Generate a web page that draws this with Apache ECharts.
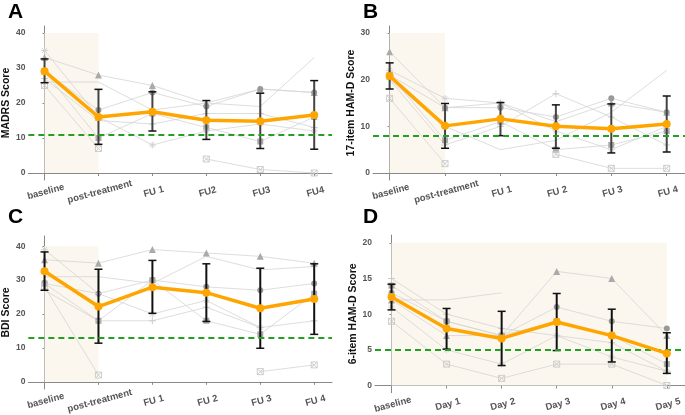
<!DOCTYPE html>
<html>
<head>
<meta charset="utf-8">
<script src="https://cdn.jsdelivr.net/npm/echarts@6/dist/echarts.min.js"></script>
<style>
  html, body { margin: 0; padding: 0; background: #fff; }
  #chart { width: 685px; height: 415px; }
</style>
</head>
<body>
<div id="chart"></div>
<script>
// category labels
const labelsA = ['baseline', 'post-treatment', 'FU 1', 'FU2', 'FU3', 'FU4'];
const labelsB = ['baseline', 'post-treatment', 'FU 1', 'FU 2', 'FU 3', 'FU 4'];
const labelsC = ['baseline', 'post-treatment', 'FU 1', 'FU 2', 'FU 3', 'FU 4'];
const labelsD = ['baseline', 'Day 1', 'Day 2', 'Day 3', 'Day 4', 'Day 5'];

// group means and error bars (low / high)
const meanA = [29.1, 16.0, 17.5, 15.1, 14.8, 16.6];
const lowA  = [25.8, 8.2, 12.0, 9.6, 7.0, 6.8];
const highA = [32.6, 23.9, 23.2, 20.7, 22.8, 26.4];

const meanB = [20.8, 10.1, 11.6, 10.0, 9.5, 10.5];
const lowB  = [18.0, 5.3, 8.0, 5.3, 4.3, 4.5];
const highB = [23.6, 14.9, 15.1, 14.6, 14.8, 16.5];

const meanC = [32.6, 22.2, 27.9, 26.3, 21.7, 24.4];
const lowC  = [27.0, 11.4, 20.2, 17.8, 9.9, 14.0];
const highC = [38.3, 33.2, 35.8, 34.8, 33.5, 34.8];

const meanD = [12.4, 8.0, 6.6, 8.9, 7.0, 4.5];
const lowD  = [10.6, 5.1, 2.8, 4.9, 3.3, 1.7];
const highD = [14.2, 10.8, 10.4, 12.9, 10.7, 7.4];

// cut-off lines
const cutA = 11, cutB = 8, cutC = 13, cutD = 5;

// individual subjects (tri, cir, sq, plus, box, ast, plain)
const subjA = [
  [33, 28, 25, 20, 24, 23],
  [29, 18, 23, 19, 24, 23],
  [29, 10, 17, 13, 9, 16],
  [27, 15, 14, 17, 17, 13],
  [25, 7, null, 4, 1, 0],
  [35, 16, 8, 12, 14, 12],
  [26, 26, 18, 20, 19, 33]
];
const subjB = [
  [26, 14, 15, 11, 15, 13],
  [21, 14, 14, 12, 16, 13],
  [21, 7, 11, 5, 6, 9],
  [20, 6, 10, 17, 12, 6],
  [16, 2, null, 4, 1, 1],
  [22, 16, 15, 9, 5, 10],
  [20, 10, 5, 7, 13, 22]
];
const subjC = [
  [36, 35, 39, 38, 37, 35],
  [29, 26, 30, 28, 27, 29],
  [29, 18, 30, 18, 14, 26],
  [27, 18, 18, 22, 16, 18],
  [28, 2, null, null, 3, 5],
  [39, 26, 20, 24, 16, null],
  [31, 31, 29, 37, 33, 34]
];
const subjD = [
  [12, 7, 7, 16, 15, 7],
  [13, 9, 7, 11, 9, 8],
  [14, 9, 7, 9, 7, 3],
  [15, 10, 8, 7, 6, 2],
  [9, 3, 1, 3, 3, 0],
  [11, 5, 3, 7, 4, 2],
  [12, 12, 13, null, null, null]
];

const yTicksA = [0, 10, 20, 30, 40];
const yTicksB = [0, 10, 20, 30];
const yTicksC = [0, 10, 20, 30, 40];
const yTicksD = [0, 5, 10, 15, 20];

const symbols = [
  { symbol: 'triangle', fill: '#aaaaaa', stroke: 'none', size: 7 },
  { symbol: 'circle', fill: '#999999', stroke: 'none', size: 6 },
  { symbol: 'rect', fill: '#aaaaaa', stroke: 'none', size: 6 },
  { symbol: 'path://M5,0L5,10M0,5L10,5', fill: 'none', stroke: '#c8c8c8', size: 7 },
  { symbol: 'path://M0,0L10,0L10,10L0,10Z M0,0L10,10 M10,0L0,10', fill: 'none', stroke: '#c8c8c8', size: 6 },
  { symbol: 'path://M5,0L5,10M0,5L10,5M1.5,1.5L8.5,8.5M8.5,1.5L1.5,8.5', fill: 'none', stroke: '#d0d0d0', size: 7 },
  { symbol: 'none', fill: 'none', stroke: 'none', size: 0 }
];

const panels = [
  { letter: 'A', labels: labelsA, mean: meanA, low: lowA, high: highA, cut: cutA, subj: subjA, yTicks: yTicksA,
    yName: 'MADRS Score', yMin: -2, yMax: 42, area: [0, 1, 0, 40], bar: '#444',
    grid: { left: 22, top: 26, width: 310, height: 154 }, lx: 8, ly: 2 },
  { letter: 'B', labels: labelsB, mean: meanB, low: lowB, high: highB, cut: cutB, subj: subjB, yTicks: yTicksB,
    yName: '17-item HAM-D Score', yMin: -1.5, yMax: 31.5, area: [0, 1, 0, 30], bar: '#444',
    grid: { left: 373, top: 26, width: 312, height: 154 }, lx: 363, ly: 2 },
  { letter: 'C', labels: labelsC, mean: meanC, low: lowC, high: highC, cut: cutC, subj: subjC, yTicks: yTicksC,
    yName: 'BDI Score', yMin: -2.1, yMax: 43, area: [0, 1, 0, 40], bar: '#111',
    grid: { left: 22, top: 236, width: 310, height: 154 }, lx: 8, ly: 207 },
  { letter: 'D', labels: labelsD, mean: meanD, low: lowD, high: highD, cut: cutD, subj: subjD, yTicks: yTicksD,
    yName: '6-item HAM-D Score', yMin: -1, yMax: 21.1, area: [0, 5, 0, 20], bar: '#111',
    grid: { left: 375, top: 235, width: 310, height: 161 }, lx: 363, ly: 207 }
];

const grids = [], xAxes = [], yAxes = [], series = [], graphics = [];
const idx6 = [0, 1, 2, 3, 4, 5];

panels.forEach(function (p, k) {
  grids.push(p.grid);
  xAxes.push({
    gridIndex: k, type: 'value', min: -0.3, max: 5.33,
    axisLine: { lineStyle: { color: '#888', width: 1 } },
    axisTick: { show: true, length: 3, customValues: idx6, lineStyle: { color: '#888' } },
    splitLine: { show: false },
    axisLabel: {
      customValues: idx6, rotate: 15, margin: 7, align: 'center', verticalAlign: 'top',
      fontFamily: 'Liberation Sans', fontWeight: 'bold', fontSize: 9.5, color: '#555',
      formatter: function (v) { return p.labels[Math.round(v)]; }
    }
  });
  yAxes.push({
    gridIndex: k, type: 'value', min: p.yMin, max: p.yMax,
    name: p.yName, nameLocation: 'middle', nameGap: 12,
    nameTextStyle: { fontFamily: 'Liberation Sans', fontWeight: 'bold', fontSize: 10.5, color: '#111' },
    axisLine: { show: true, lineStyle: { color: '#888', width: 1 } },
    axisTick: { show: true, length: 2, customValues: p.yTicks, lineStyle: { color: '#888' } },
    splitLine: { show: false },
    axisLabel: {
      customValues: p.yTicks, margin: 3,
      fontFamily: 'Liberation Sans', fontWeight: 'bold', fontSize: 8.5, color: '#555'
    }
  });

  // shaded treatment window
  series.push({
    type: 'line', xAxisIndex: k, yAxisIndex: k, data: [], z: 1, silent: true,
    markArea: {
      silent: true,
      itemStyle: { color: '#fcf7ee' },
      data: [[{ coord: [p.area[0], p.area[2]] }, { coord: [p.area[1], p.area[3]] }]]
    }
  });

  // individual subjects
  p.subj.forEach(function (vals, s) {
    const sym = symbols[s];
    series.push({
      type: 'line', xAxisIndex: k, yAxisIndex: k, z: 2, silent: true,
      data: vals.map(function (v, i) { return [i, v]; }),
      connectNulls: false,
      symbol: sym.symbol, symbolSize: sym.size, showSymbol: sym.symbol !== 'none',
      lineStyle: { color: '#d4d4d4', width: 0.8 },
      itemStyle: { color: sym.fill, borderColor: sym.stroke, borderWidth: sym.stroke === 'none' ? 0 : 0.9 }
    });
  });

  // cut-off
  series.push({
    type: 'line', xAxisIndex: k, yAxisIndex: k, data: [], z: 3, silent: true,
    markLine: {
      silent: true, symbol: 'none', label: { show: false },
      lineStyle: { color: '#22a022', type: [6, 4], width: 2 },
      data: [{ yAxis: p.cut }]
    }
  });

  // error bars
  series.push({
    type: 'custom', xAxisIndex: k, yAxisIndex: k, z: 4, silent: true,
    data: idx6.map(function (i) { return [i, p.low[i], p.high[i]]; }),
    renderItem: function (params, api) {
      const lo = api.coord([api.value(0), api.value(1)]);
      const hi = api.coord([api.value(0), api.value(2)]);
      const w = 4;
      const st = { stroke: p.bar, lineWidth: 2 };
      return {
        type: 'group',
        children: [
          { type: 'line', shape: { x1: lo[0], y1: lo[1], x2: hi[0], y2: hi[1] }, style: st },
          { type: 'line', shape: { x1: lo[0] - w, y1: lo[1], x2: lo[0] + w, y2: lo[1] }, style: { stroke: '#111', lineWidth: 1.5 } },
          { type: 'line', shape: { x1: hi[0] - w, y1: hi[1], x2: hi[0] + w, y2: hi[1] }, style: { stroke: '#111', lineWidth: 1.5 } }
        ]
      };
    }
  });

  // mean line
  series.push({
    type: 'line', xAxisIndex: k, yAxisIndex: k, z: 5, silent: true,
    data: p.mean.map(function (v, i) { return [i, v]; }),
    symbol: 'circle', symbolSize: 8,
    lineStyle: { color: '#ffa500', width: 3.5 },
    itemStyle: { color: '#ffa500' }
  });

  graphics.push({
    type: 'text', left: p.lx, top: p.ly,
    style: { text: p.letter, font: 'bold 21px "Liberation Sans"', fill: '#000' }
  });
});

const chart = echarts.init(document.getElementById('chart'));
chart.setOption({
  animation: false,
  grid: grids,
  xAxis: xAxes,
  yAxis: yAxes,
  series: series,
  graphic: graphics
});
</script>
</body>
</html>
